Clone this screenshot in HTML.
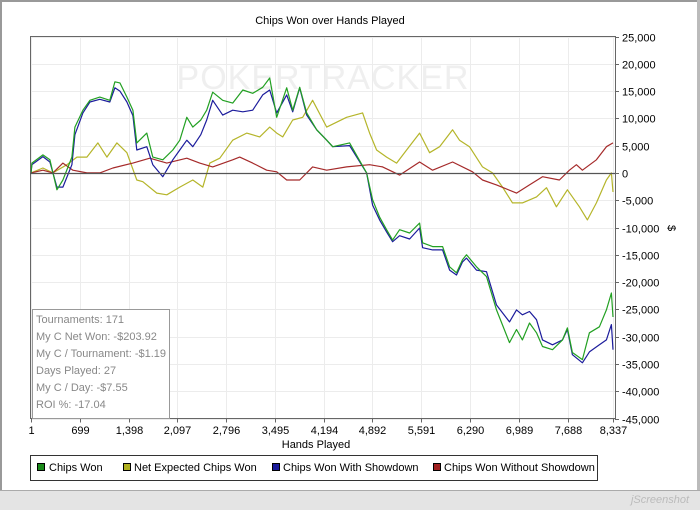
<!DOCTYPE html>
<html><head><meta charset="utf-8"><style>
body{margin:0;background:#fff;width:700px;height:510px;overflow:hidden;font-family:"Liberation Sans",sans-serif}
svg{display:block}
</style></head><body>
<svg width="700" height="510">
<rect x="0" y="0" width="700" height="510" fill="#fff"/>
<rect x="0" y="0" width="700" height="2" fill="#999"/>
<rect x="0" y="0" width="2" height="492" fill="#999"/>
<rect x="697" y="0" width="3" height="492" fill="#bbb"/>
<rect x="0" y="490" width="700" height="20" fill="#e4e4e4"/>
<line x1="0" y1="490.5" x2="700" y2="490.5" stroke="#aaa"/>
<text x="660" y="503" font-size="11" fill="#bbb" text-anchor="middle" font-style="italic">jScreenshot</text>
<text x="330" y="24" font-size="11" fill="#000" text-anchor="middle">Chips Won over Hands Played</text>
<text x="323" y="89" font-size="34" fill="#efefef" text-anchor="middle" letter-spacing="1">POKERTRACKER</text>
<g id="grid"></g>
<g id="series"></g>
<rect x="30.5" y="36.5" width="585" height="382" fill="none" stroke="#666"/>
<g id="axes"></g>
<text x="316" y="448" font-size="11" text-anchor="middle">Hands Played</text>
<text x="668" y="228" font-size="11" text-anchor="middle" transform="rotate(90 668 228)">$</text>
<g>
<rect x="32.5" y="309.5" width="137" height="109" fill="#fff" stroke="#999"/>
<g font-size="11" fill="#888">
<text x="36" y="323">Tournaments: 171</text>
<text x="36" y="340">My C Net Won: -$203.92</text>
<text x="36" y="357">My C / Tournament: -$1.19</text>
<text x="36" y="374">Days Played: 27</text>
<text x="36" y="391">My C / Day: -$7.55</text>
<text x="36" y="408">ROI %: -17.04</text>
</g></g>
<g>
<rect x="30.5" y="455.5" width="567" height="25" fill="#fff" stroke="#333"/>
<g font-size="11" fill="#000">
<rect x="37.5" y="463.5" width="7" height="7" fill="#1a8a1a" stroke="#000"/><text x="49" y="471">Chips Won</text>
<rect x="123.5" y="463.5" width="7" height="7" fill="#b0b020" stroke="#000"/><text x="134" y="471">Net Expected Chips Won</text>
<rect x="272.5" y="463.5" width="7" height="7" fill="#1a1a9a" stroke="#000"/><text x="283" y="471">Chips Won With Showdown</text>
<rect x="433.5" y="463.5" width="7" height="7" fill="#a02020" stroke="#000"/><text x="444" y="471">Chips Won Without Showdown</text>
</g></g>
</svg>
<script>
const xTicks=[1,699,1398,2097,2796,3495,4194,4892,5591,6290,6989,7688,8337];
const yTicks=[25000,20000,15000,10000,5000,0,-5000,-10000,-15000,-20000,-25000,-30000,-35000,-40000,-45000];
const gwHands=[1,14,172,272,372,458,587,630,744,844,987,1130,1202,1274,1374,1460,1517,1660,1746,1889,2032,2132,2232,2318,2433,2518,2604,2747,2890,3034,3177,3320,3420,3520,3663,3749,3849,3950,4093,4236,4322,4565,4808,4894,4994,5094,5180,5280,5423,5567,5610,5753,5896,5996,6096,6182,6239,6382,6525,6668,6854,6955,7040,7141,7241,7327,7470,7613,7684,7756,7899,7999,8142,8242,8314,8337];
const chipsWon=[0,1800,3300,2400,-3100,-1300,2900,8400,11500,13300,13900,13300,16700,16500,13900,11500,5500,7300,2900,2400,4200,6000,10200,8400,9700,11500,14800,13300,12800,15200,14600,15700,17400,10200,15600,11500,15700,11000,7900,6000,4800,5500,0,-4900,-8100,-10400,-12300,-10400,-11000,-9200,-12800,-13500,-13500,-17200,-18300,-15900,-15000,-17200,-19000,-25100,-31100,-28700,-30600,-27500,-29300,-31800,-32400,-30600,-28400,-32900,-34200,-29300,-28200,-25100,-22000,-26400];
const withShowdown=[0,1500,3000,2000,-2600,-2600,1500,7000,11000,13000,13500,13000,15600,15000,13000,10500,4200,4800,1500,-700,2400,4200,6000,4800,7000,9700,13300,10600,11500,11200,11500,14300,15200,11000,14300,11200,15600,10600,7900,6000,4800,5000,0,-5900,-8600,-10800,-12600,-11500,-12100,-10100,-13700,-14100,-14100,-17800,-18700,-16300,-15600,-17800,-18100,-24200,-27300,-25100,-26000,-25400,-26900,-30600,-31500,-30600,-28700,-33300,-34800,-32800,-31500,-30600,-27800,-32400];
const netExpHands=[1,172,315,515,658,801,959,1088,1231,1374,1517,1603,1803,1946,2132,2318,2461,2562,2705,2890,3091,3277,3420,3520,3606,3749,3892,4035,4236,4522,4751,4851,4951,5094,5237,5381,5567,5710,5853,6039,6139,6282,6468,6611,6754,6897,7040,7241,7384,7527,7684,7856,7971,8099,8242,8314,8337];
const netExpected=[0,900,0,1500,2900,2900,5500,2900,5500,3700,-1300,-1600,-3700,-4000,-2600,-1300,-2600,1800,2700,6000,7300,6600,8400,7300,6600,9700,10200,13300,8400,10200,11000,7300,4200,2900,1800,4200,7300,3700,4800,7900,6000,4800,1100,0,-2600,-5500,-5500,-4400,-2700,-6200,-3100,-6200,-8600,-5500,-1300,0,-3500];
const noSdHands=[1,172,315,458,601,801,987,1174,1460,1703,1946,2232,2418,2604,2890,2990,3177,3377,3520,3663,3849,4035,4236,4522,4851,5037,5280,5567,5753,6039,6325,6468,6668,6955,7141,7327,7570,7713,7813,7899,8099,8242,8337];
const withoutShowdown=[0,500,0,1800,500,0,0,900,1800,2700,1800,2700,1800,1100,2400,2900,1800,500,200,-1300,-1300,1100,500,1100,1500,1100,-400,2000,500,2000,200,-1300,-2200,-3700,-2200,-700,-1300,500,1500,500,2400,4800,5500];

const X0=31,X1=613,Y0=36.5,Y1=418.5,VMAX=25000,VMIN=-45000;
function xs(h){return X0+(h-1)/(8337-1)*(X1-X0);}
function ys(v){return Y0+(VMAX-v)/(VMAX-VMIN)*(Y1-Y0);}
const NS='http://www.w3.org/2000/svg';
function mk(t,a,p){const e=document.createElementNS(NS,t);for(const k in a)e.setAttribute(k,a[k]);p.appendChild(e);return e;}
const grid=document.getElementById('grid'),axes=document.getElementById('axes'),ser=document.getElementById('series');
xTicks.forEach(t=>{const x=Math.round(xs(t))+0.5;
 const g=mk('line',{x1:x,y1:Y0,x2:x,y2:Y1,stroke:'#ececec'},grid);
 
 
 mk('line',{x1:x,y1:Y1,x2:x,y2:Y1+4,stroke:'#666'},axes);
 const l=mk('text',{x:x,y:434,'font-size':11,'text-anchor':'middle'},axes);l.textContent=t.toLocaleString('en-US');
 
 
});
yTicks.forEach(t=>{const y=Math.round(ys(t))+0.5;
 if(t!==0){const g=mk('line',{x1:X0,y1:y,x2:615,y2:y,stroke:'#ececec'},grid);
 
 }
 mk('line',{x1:615,y1:y,x2:619,y2:y,stroke:'#666'},axes);
 const l=mk('text',{x:622,y:y+4,'font-size':11},axes);l.textContent=t.toLocaleString('en-US');
 
 
});
const z=Math.round(ys(0))+0.5;
const zl=mk('line',{x1:30,y1:z,x2:615,y2:z,stroke:'#555','stroke-width':1.2},axes);


function line(h,v,c,name){const pts=h.map((hh,i)=>xs(hh).toFixed(1)+','+ys(v[i]).toFixed(1)).join(' ');
 const p=mk('polyline',{points:pts,fill:'none',stroke:c,'stroke-width':1.2,'stroke-linejoin':'round'},ser);
 
 }
line(netExpHands,netExpected,'#b5b52a','net-expected-line');
line(noSdHands,withoutShowdown,'#a52a2a','without-showdown-line');
line(gwHands,withShowdown,'#1c1c9c','with-showdown-line');
line(gwHands,chipsWon,'#22a022','chips-won-line');
</script>
</body></html>
